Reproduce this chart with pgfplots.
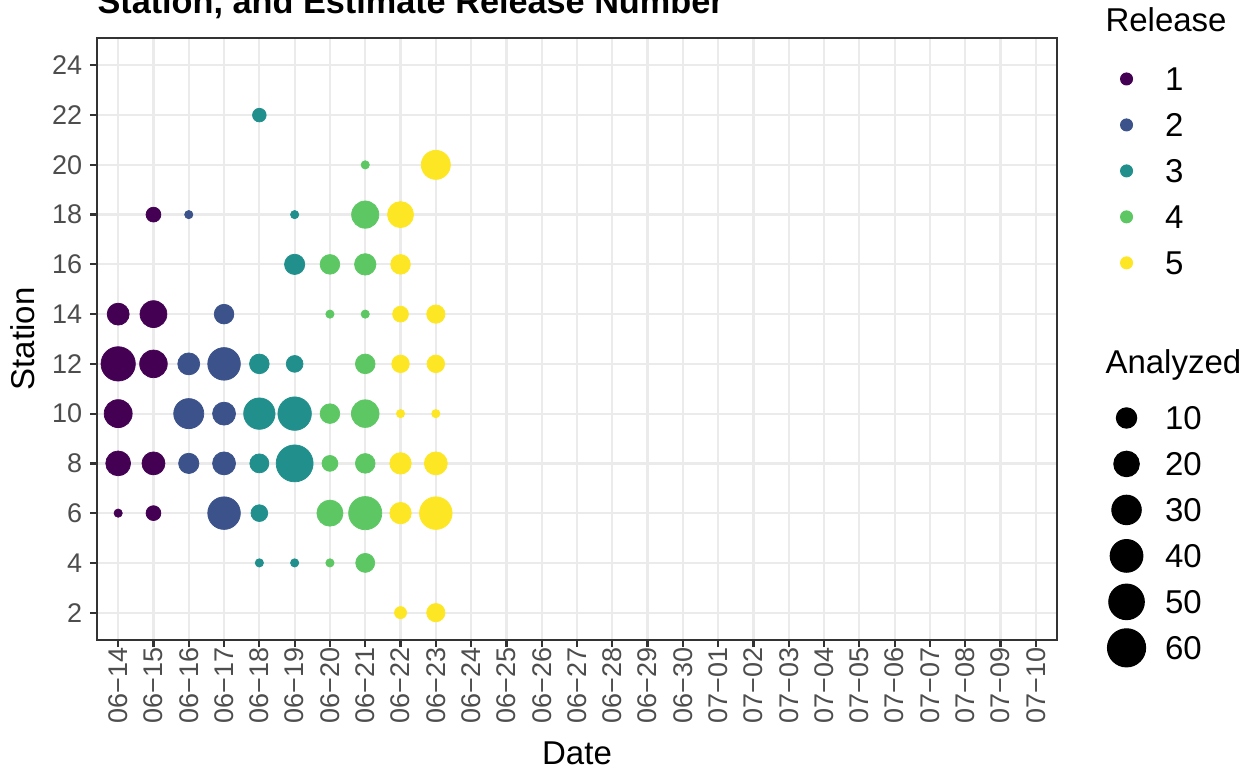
\documentclass[border=0pt]{standalone}
\usepackage{fontspec}
\setmainfont{Liberation Sans}
\usepackage{pgfplots}
\pgfplotsset{compat=1.18}

\definecolor{rel1}{HTML}{440154}
\definecolor{rel2}{HTML}{3B528B}
\definecolor{rel3}{HTML}{21908C}
\definecolor{rel4}{HTML}{5DC863}
\definecolor{rel5}{HTML}{FDE725}
\definecolor{grey20}{HTML}{333333}
\definecolor{grey30}{HTML}{4D4D4D}
\definecolor{grey92}{HTML}{EBEBEB}

% bubble radius (pt) from the Analyzed count n
\pgfplotsset{
  bubbles/.style={scatter, only marks, mark=*,
    mark options={line width=0.3pt},
    scatter/use mapped color={draw=#1, fill=#1},
    visualization depends on={1.65+0.76*sqrt(\thisrow{n}-1) \as \psize},
    scatter/@pre marker code/.append style={/tikz/mark size=\psize}},
  keylegend/.style={hide axis, scale only axis, width=502.8pt, height=308.4pt,
    at={(0pt,0pt)}, anchor=south west, xmin=0, xmax=1, ymin=0, ymax=1,
    legend cell align=left,
    legend style={at={#1}, anchor=north west, draw=none, fill=none,
      inner sep=0pt, outer sep=0pt, column sep=15.2pt, row sep=0pt,
      font=\fontsize{13.2}{15}\selectfont,
      nodes={inner sep=0pt, text height=13.92pt, text depth=4.47pt}}},
}
\newcommand{\relkey}[1]{\addlegendimage{legend image code/.code={\path (0pt,0pt); \fill[overlay,#1] (0pt,0pt) circle[radius=2.4pt];}}}
\newcommand{\sizekey}[1]{\addlegendimage{legend image code/.code={\path (0pt,0pt); \fill[overlay,black] (0pt,0pt) circle[radius={(1.8+0.76*sqrt(#1-1))*1pt}];}}}

\begin{document}
\begin{tikzpicture}
\useasboundingbox (0pt,0pt) rectangle (502.8pt,308.4pt);

\node[anchor=base west, inner sep=0pt] at (38.8pt,302.8pt)
  {\fontsize{13.7}{16}\selectfont\bfseries Station, and Estimate Release Number};

\begin{axis}[
  at={(38.8pt,52.4pt)}, anchor=south west,
  scale only axis, width=384pt, height=240.8pt,
  xmin=-0.6, xmax=26.6, ymin=0.9, ymax=25.1,
  xtick={0,...,26},
  xticklabels={06−14,06−15,06−16,06−17,06−18,06−19,06−20,06−21,06−22,06−23,06−24,06−25,06−26,06−27,06−28,06−29,06−30,07−01,07−02,07−03,07−04,07−05,07−06,07−07,07−08,07−09,07−10},
  ytick={2,4,...,24},
  grid=major, major grid style={draw=grey92, line width=0.9pt},
  axis line style={draw=grey20, line width=0.9pt},
  tick style={draw=grey20, line width=0.9pt},
  major tick length=2.8pt, tick align=outside, tick pos=left,
  tick label style={font=\fontsize{10.8}{13}\selectfont, text=grey30},
  /pgf/number format/assume math mode=true,
  yticklabel style={inner sep=0pt, xshift=-2.9pt},
  xticklabel style={rotate=90, anchor=east, inner sep=0pt},
  xlabel={Date}, ylabel={Station},
  label style={font=\fontsize{13.2}{15}\selectfont},
  xlabel style={at={(axis description cs:0.5,-0.2076)}, anchor=base},
  ylabel style={at={(axis description cs:-0.0656,0.5)}, anchor=base},
]
% Release 1
\addplot[bubbles=rel1] table {
x y n
0 14 14
0 12 48
0 10 28
0 8 20
0 6 1
1 18 4
1 14 25
1 12 27
1 8 16
1 6 4
};
% Release 2
\addplot[bubbles=rel2] table {
x y n
2 18 1
2 12 14
2 10 34
2 8 11
3 14 10
3 12 42
3 10 16
3 8 16
3 6 42
};
% Release 3
\addplot[bubbles=rel3] table {
x y n
4 22 3
4 12 10
4 10 38
4 8 9
4 6 6
4 4 1
5 18 1
5 16 11
5 12 6
5 10 45
5 8 58
5 4 1
};
% Release 4
\addplot[bubbles=rel4] table {
x y n
6 16 10
6 14 1
6 10 10
6 8 5
6 6 23
6 4 1
7 20 1
7 18 26
7 16 13
7 14 1
7 12 10
7 10 27
7 8 10
7 6 44
7 4 9
};
% Release 5
\addplot[bubbles=rel5] table {
x y n
8 18 23
8 16 10
8 14 5
8 12 7
8 10 1
8 8 13
8 6 13
8 2 2
9 20 31
9 14 8
9 12 7
9 10 1
9 8 16
9 6 42
9 2 8
};
\end{axis}

% legend: Release
\node[anchor=base west, inner sep=0pt, font=\fontsize{13.2}{15}\selectfont] at (442pt,295.6pt) {Release};
\begin{axis}[keylegend={(0.8958,0.9274)}]
\relkey{rel1}\relkey{rel2}\relkey{rel3}\relkey{rel4}\relkey{rel5}
\legend{1,2,3,4,5}
\end{axis}

% legend: Analyzed
\node[anchor=base west, inner sep=0pt, font=\fontsize{13.2}{15}\selectfont] at (442pt,159.2pt) {Analyzed};
\begin{axis}[keylegend={(0.8958,0.4877)}]
\sizekey{10}\sizekey{20}\sizekey{30}\sizekey{40}\sizekey{50}\sizekey{60}
\legend{10,20,30,40,50,60}
\end{axis}
\end{tikzpicture}
\end{document}
